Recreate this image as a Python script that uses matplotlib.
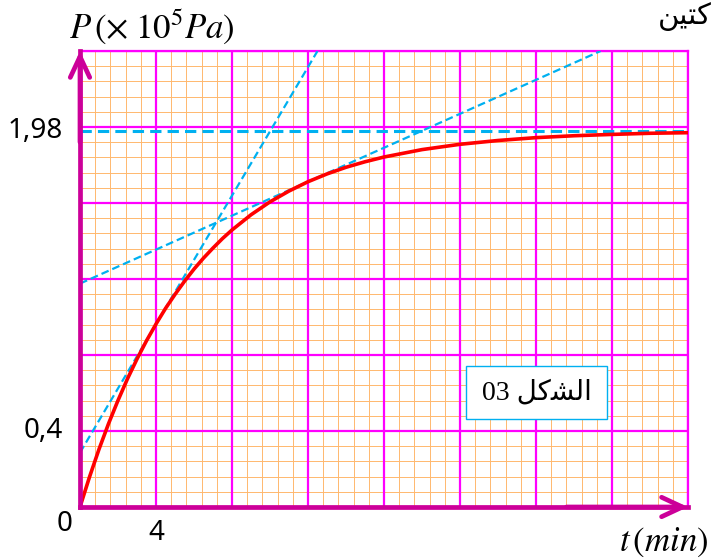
import matplotlib
matplotlib.use('Agg')
import matplotlib.pyplot as plt
import numpy as np

plt.rcParams['mathtext.fontset'] = 'stix'

# ── data ──────────────────────────────────────────────────────────────────
t_min = [0, 0.5, 1, 1.5, 2, 2.5, 3, 3.5, 4, 4.5, 5, 5.5, 6, 6.5, 7, 7.5, 8,
         9, 10, 11, 12, 13, 14, 15, 16, 18, 20, 22, 24, 26, 28, 30, 32]
p_bar = [0, 0.158, 0.304, 0.438, 0.561, 0.675, 0.779, 0.875, 0.963, 1.045,
         1.119, 1.188, 1.252, 1.310, 1.363, 1.413, 1.458,
         1.538, 1.606, 1.663, 1.712, 1.753, 1.788, 1.817, 1.842, 1.881,
         1.909, 1.929, 1.944, 1.954, 1.961, 1.967, 1.970]

# tangent at t = 4 min and tangent at t = 12 min (end points)
tan1_t = [0, 12.5]
tan1_p = [0.286, 2.40]
tan2_t = [0, 27.4]
tan2_p = [1.176, 2.40]

p_max = 1.98
p_max_t = [0, 31.8]

x_major = np.arange(0, 33, 4)
x_minor = np.arange(0, 32.01, 0.8)
y_major = np.arange(0, 2.41, 0.4)
y_minor = np.arange(0, 2.401, 0.08)

MAG = '#FF00FF'
AXC = '#CC0099'
ORG = '#FFB86E'
BLU = '#00B0F0'

fig = plt.figure(figsize=(7.14, 5.6), dpi=100)
ax = fig.add_axes([80/714, 1 - 507/560, 608/714, 456/560])
ax.set_xlim(0, 32)
ax.set_ylim(0, 2.4)

# graph paper
ax.set_xticks(x_minor, minor=True)
ax.set_yticks(y_minor, minor=True)
ax.set_xticks([])
ax.set_yticks([])
ax.grid(which='minor', color=ORG, lw=0.7)
ax.tick_params(which='both', length=0, labelbottom=False, labelleft=False)
for xv in x_major:
    ax.axvline(xv, color=MAG, lw=1.6, zorder=1.7)
for yv in y_major:
    ax.axhline(yv, color=MAG, lw=1.6, zorder=1.7)

for s in ['top', 'right']:
    ax.spines[s].set_color(MAG)
    ax.spines[s].set_linewidth(1.6)
for s in ['left', 'bottom']:
    ax.spines[s].set_color(AXC)
    ax.spines[s].set_linewidth(3.4)
    ax.spines[s].set_zorder(5)

# curves
ax.plot(p_max_t, [p_max, p_max], color=BLU, lw=2.2, dashes=(3.7, 2.0), zorder=3)
ax.plot(tan1_t, tan1_p, color=BLU, lw=1.6, dashes=(3.5, 1.8), zorder=3)
ax.plot(tan2_t, tan2_p, color=BLU, lw=1.6, dashes=(3.5, 1.8), zorder=3)
ax.plot(t_min, p_bar, color='#FF0000', lw=2.6, zorder=4, solid_capstyle='round')

# axis arrows
arw = dict(arrowstyle='->,head_length=0.75,head_width=0.35', color=AXC, lw=3.4,
           shrinkA=0, shrinkB=0, mutation_scale=20)
ax.annotate('', xy=(0, 1), xytext=(0, 0.8), xycoords='axes fraction',
            arrowprops=arw, annotation_clip=False, zorder=6)
ax.annotate('', xy=(1, 0), xytext=(0.8, 0), xycoords='axes fraction',
            arrowprops=arw, annotation_clip=False, zorder=6)

# labels
lab = dict(fontsize=20, family='Noto Sans', color='black')
ax.text(-0.9, 1.98, '1,98', ha='right', va='center', **lab)
ax.text(-0.9, 0.4, '0,4', ha='right', va='center', **lab)
ax.text(-0.8, -0.09, '0', ha='center', va='center', **lab)
ax.text(4, -0.135, '4', ha='center', va='center', **lab)

fig.text(152/714, 1 - 27/560, r'$P\,(\times\;10^5Pa)$', ha='center', va='center',
         fontsize=25)
fig.text(664/714, 1 - 542/560, r'$t\,(min)$', ha='center', va='center',
         fontsize=25)

# figure label box
ax.add_patch(plt.Rectangle((0.635, 0.193), 0.232, 0.116, transform=ax.transAxes,
                           facecolor='white', edgecolor=BLU, lw=1.0, zorder=7))
ax.text(0.751, 0.251, '03 \uFEDE\uFEDB\uFEB8\uFEDF\uFE8D', transform=ax.transAxes,
        ha='center', va='center', fontsize=20,
        family=['Liberation Serif', 'DejaVu Sans'], zorder=8)

# word at the top right corner
fig.text(712/714, 1 - 17/560, '\uFEE6\uFEF4\uFE98\uFEDB', ha='right', va='center',
         fontsize=21, family='DejaVu Sans')

fig.savefig('out.png', dpi=100)
